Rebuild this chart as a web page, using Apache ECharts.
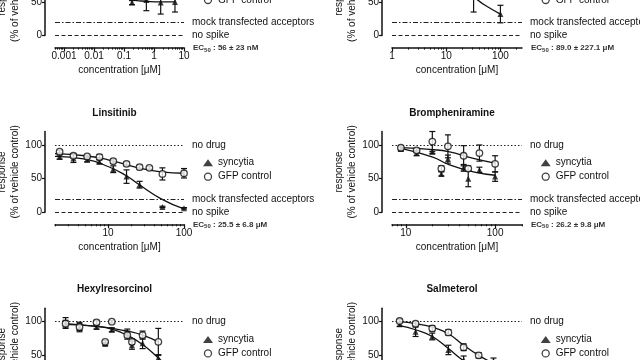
<!DOCTYPE html>
<html>
<head>
<meta charset="utf-8">
<script src="https://cdn.jsdelivr.net/npm/echarts@6/dist/echarts.min.js"></script>
<style>
  html, body { margin: 0; background: #fff; }
  #chart { width: 640px; height: 360px; }
</style>
</head>
<body>
<div id="chart"></div>
<script>
// ---- panel 1: top left (only its lower part is in view)
const p1SyncConc = [0.185, 0.556, 1.67, 5];
const p1Sync = [49, 53, 49, 50];
const p1SyncErr = [3, 16, 17, 15];
const p1SyncFitConc = [0.05, 0.1, 0.185, 0.556, 1.67, 5];
const p1SyncFit = [75, 60, 53, 51, 50, 50];
const p1Ticks = [0.001, 0.01, 0.1, 1, 10];
const p1TickLabels = ["0.001", "0.01", "0.1", "1", "10"];

// ---- panel 2: top right (only its lower part is in view)
const p2SyncConc = [32, 100];
const p2Sync = [62, 32];
const p2SyncErr = [27, 13];
const p2SyncFitConc = [20, 30, 38, 60, 100];
const p2SyncFit = [78, 62, 53, 42, 32];
const p2Ticks = [1, 10, 100];
const p2TickLabels = ["1", "10", "100"];

// ---- panel 3: Linsitinib
const p3GfpConc = [2.3, 3.5, 5.3, 7.7, 11.7, 17.5, 26, 35, 52, 100];
const p3Gfp = [90, 84, 83, 82, 76, 72, 67, 66, 57, 58];
const p3GfpErr = [2, 3, 2, 4, 3, 3, 3, 2, 9, 7];
const p3SyncConc = [2.3, 3.5, 5.3, 7.7, 11.7, 17.5, 26, 52, 100];
const p3Sync = [82, 80, 78, 75, 64, 53, 41, 8, 6];
const p3SyncErr = [3, 6, 3, 3, 5, 10, 5, 1, 1];
const p3GfpFitConc = [2, 5, 10, 17, 25, 50, 100];
const p3GfpFit = [87, 84, 78, 71, 66, 60, 58];
const p3SyncFitConc = [2, 5, 10, 17, 25, 50, 100];
const p3SyncFit = [83, 79, 68, 55, 42, 20, 5];
const p3Ticks = [10, 100];
const p3TickLabels = ["10", "100"];

// ---- panel 4: Brompheniramine
const p4Conc = [8.8, 13.2, 19.8, 25, 29.6, 44.4, 50, 66.7, 100];
const p4Gfp = [96, 92, 105, 65, 98, 84, 65, 88, 72];
const p4GfpErr = [3, 3, 15, 4, 17, 15, 4, 12, 12];
const p4Sync = [94, 88, 90, 57, 79, 66, 50, 63, 53];
const p4SyncErr = [3, 4, 3, 3, 6, 5, 12, 4, 7];
const p4GfpFitConc = [8.8, 20, 30, 57, 100];
const p4GfpFit = [96, 93, 90, 80, 73];
const p4SyncFitConc = [8.8, 20, 30, 57, 100];
const p4SyncFit = [95, 82, 71, 60, 55];
const p4Ticks = [10, 100];
const p4TickLabels = ["10", "100"];

// ---- panel 5: Hexylresorcinol (bottom cut off)
const p5Conc = [0.73, 1.2, 2.2, 3.0, 3.8, 6.6, 7.8, 11.4, 20];
const p5Gfp = [97, 92, 99, 70, 100, 80, 70, 80, 70];
const p5GfpErr = [5, 5, 3, 2, 2, 6, 4, 6, 20];
const p5Sync = [98, 92, 92, 67, 88, 83, 65, 68, 46];
const p5SyncErr = [8, 7, 3, 2, 3, 6, 6, 8, 5];
const p5GfpFitConc = [0.73, 2.2, 3.8, 6.6, 11.4, 20];
const p5GfpFit = [96, 93, 90, 86, 80, 70];
const p5SyncFitConc = [0.73, 2.2, 3.8, 6.6, 11.4, 20, 35];
const p5SyncFit = [97, 93, 89, 80, 66, 46, 25];
const p5Ticks = [1, 10];
const p5TickLabels = ["1", "10"];

// ---- panel 6: Salmeterol (bottom cut off)
const p6Conc = [0.15, 0.35, 0.85, 2, 4.5, 10, 22];
const p6Gfp = [101, 97, 90, 84, 62, 50, 38];
const p6GfpErr = [2, 3, 4, 4, 5, 4, 8];
const p6Sync = [96, 85, 78, 58, 43, 30, 20];
const p6SyncErr = [3, 7, 5, 7, 6, 5, 5];
const p6GfpFitConc = [0.15, 0.35, 0.85, 2, 4.5, 10, 22];
const p6GfpFit = [100, 97, 92, 82, 65, 50, 38];
const p6SyncFitConc = [0.15, 0.35, 0.85, 2, 4.5, 10];
const p6SyncFit = [94, 88, 78, 60, 42, 30];
const p6Ticks = [0.1, 1, 10, 100];
const p6TickLabels = ["0.1", "1", "10", "100"];

const INK = "#111";
const FONT = "Liberation Sans, Arial, sans-serif";

const colLeft = [55, 392];
const colWidth = [129, 130];
const rowZero = [35.6, 212.3, 389];   // pixel row of y = 0
const plotH = 80.8;                   // y 0..120

const panels = [
  { col: 0, row: 0, xMin: 0.0005, xMax: 10, ticks: p1Ticks, labels: p1TickLabels, title: "", ec50: " : 56 ± 23 nM",
    sync: [p1SyncConc, p1Sync, p1SyncErr], gfp: null,
    syncFit: [p1SyncFitConc, p1SyncFit], gfpFit: null },
  { col: 1, row: 0, xMin: 1, xMax: 250, ticks: p2Ticks, labels: p2TickLabels, title: "", ec50: " : 89.0 ± 227.1 μM",
    sync: [p2SyncConc, p2Sync, p2SyncErr], gfp: null,
    syncFit: [p2SyncFitConc, p2SyncFit], gfpFit: null },
  { col: 0, row: 1, xMin: 2, xMax: 100, ticks: p3Ticks, labels: p3TickLabels, title: "Linsitinib", ec50: " : 25.5 ± 6.8 μM",
    sync: [p3SyncConc, p3Sync, p3SyncErr], gfp: [p3GfpConc, p3Gfp, p3GfpErr],
    syncFit: [p3SyncFitConc, p3SyncFit], gfpFit: [p3GfpFitConc, p3GfpFit] },
  { col: 1, row: 1, xMin: 7, xMax: 200, ticks: p4Ticks, labels: p4TickLabels, title: "Brompheniramine", ec50: " : 26.2 ± 9.8 μM",
    sync: [p4Conc, p4Sync, p4SyncErr], gfp: [p4Conc, p4Gfp, p4GfpErr],
    syncFit: [p4SyncFitConc, p4SyncFit], gfpFit: [p4GfpFitConc, p4GfpFit] },
  { col: 0, row: 2, xMin: 0.5, xMax: 50, ticks: p5Ticks, labels: p5TickLabels, title: "Hexylresorcinol", ec50: "",
    sync: [p5Conc, p5Sync, p5SyncErr], gfp: [p5Conc, p5Gfp, p5GfpErr],
    syncFit: [p5SyncFitConc, p5SyncFit], gfpFit: [p5GfpFitConc, p5GfpFit] },
  { col: 1, row: 2, xMin: 0.1, xMax: 100, ticks: p6Ticks, labels: p6TickLabels, title: "Salmeterol", ec50: "",
    sync: [p6Conc, p6Sync, p6SyncErr], gfp: [p6Conc, p6Gfp, p6GfpErr],
    syncFit: [p6SyncFitConc, p6SyncFit], gfpFit: [p6GfpFitConc, p6GfpFit] },
];

const lg = Math.log10;

function minorTicks(min, max) {
  const out = [];
  for (let d = Math.floor(lg(min)); d <= Math.ceil(lg(max)); d++) {
    for (let k = 2; k <= 9; k++) {
      const v = k * Math.pow(10, d);
      if (v >= min && v <= max) out.push(lg(v));
    }
  }
  return out;
}

function errRender(params, api) {
  const x = api.value(0);
  const a = api.coord([x, api.value(1)]);
  const b = api.coord([x, api.value(2)]);
  const st = { stroke: INK, lineWidth: 1.2 };
  return {
    type: "group",
    children: [
      { type: "line", shape: { x1: a[0], y1: a[1], x2: b[0], y2: b[1] }, style: st },
      { type: "line", shape: { x1: a[0] - 3, y1: a[1], x2: a[0] + 3, y2: a[1] }, style: st },
      { type: "line", shape: { x1: b[0] - 3, y1: b[1], x2: b[0] + 3, y2: b[1] }, style: st },
    ],
  };
}

const refLines = {
  silent: true,
  symbol: "none",
  animation: false,
  lineStyle: { color: "#222", width: 1 },
  label: { position: "end", distance: 8, fontSize: 10, color: INK, fontFamily: FONT, formatter: (p) => p.name },
  data: [
    { name: "no drug", yAxis: 100, lineStyle: { type: [1.5, 2] } },
    { name: "mock transfected acceptors", yAxis: 20, lineStyle: { type: [5, 2, 1.5, 2] } },
    { name: "no spike", yAxis: 0, lineStyle: { type: [4, 2.5] } },
  ],
};

const grid = [], xAxis = [], yAxis = [], series = [], title = [], legend = [];

panels.forEach((p, i) => {
  const left = colLeft[p.col];
  const width = colWidth[p.col];
  const zero = rowZero[p.row];
  const shift = (p.row - 1) * 176.7;
  grid.push({ left: left, top: zero - plotH, width: width, height: plotH, outerBoundsMode: "none", containLabel: false });

  const major = p.ticks.map(lg);
  xAxis.push({
    gridIndex: i, type: "value", position: "bottom", offset: 12,
    min: lg(p.xMin), max: lg(p.xMax),
    axisLine: { onZero: false, lineStyle: { color: INK, width: 1.5 } },
    axisTick: { customValues: major, length: 4, lineStyle: { color: INK, width: 1.2 } },
    axisLabel: {
      customValues: major, fontSize: 10, color: INK, margin: 4, fontFamily: FONT,
      formatter: (v) => {
        const k = major.findIndex((m) => Math.abs(m - v) < 1e-6);
        return k >= 0 ? p.labels[k] : "";
      },
    },
    splitLine: { show: false },
    name: "concentration [μM]", nameLocation: "middle", nameGap: 18,
    nameTextStyle: { fontSize: 10, color: INK, fontFamily: FONT },
  });
  xAxis.push({
    gridIndex: i, type: "value", position: "bottom", offset: 12,
    min: lg(p.xMin), max: lg(p.xMax),
    axisLine: { show: false, onZero: false },
    axisTick: { customValues: minorTicks(p.xMin, p.xMax), length: 2, lineStyle: { color: INK, width: 1 } },
    axisLabel: { show: false },
    splitLine: { show: false },
  });
  yAxis.push({
    gridIndex: i, type: "value", min: 0, max: 120, offset: 10,
    axisLine: { show: true, onZero: false, lineStyle: { color: INK, width: 1.5 } },
    axisTick: { show: true, customValues: [0, 50, 100], length: 3, lineStyle: { color: INK, width: 1.2 } },
    axisLabel: { customValues: [0, 50, 100], fontSize: 10, color: INK, margin: 3, fontFamily: FONT },
    splitLine: { show: false },
    name: "response\n(% of vehicle control)", nameLocation: "middle", nameGap: 12, nameRotate: 90,
    nameTextStyle: { fontSize: 10, lineHeight: 13, color: INK, fontFamily: FONT },
  });

  const xa = 2 * i;
  const pts = (s) => s[0].map((c, k) => [lg(c), s[1][k]]);
  const errs = (s) => s[0].map((c, k) => [lg(c), s[1][k] - s[2][k], s[1][k] + s[2][k]]);

  series.push({
    type: "line", name: "fit", xAxisIndex: xa, yAxisIndex: i, data: pts(p.syncFit),
    smooth: true, showSymbol: false, symbol: "none", z: 3,
    lineStyle: { color: INK, width: 1.3 }, markLine: refLines,
  });
  if (p.gfpFit) {
    series.push({
      type: "line", name: "fit", xAxisIndex: xa, yAxisIndex: i, data: pts(p.gfpFit),
      smooth: true, showSymbol: false, symbol: "none", z: 3, lineStyle: { color: INK, width: 1.3 },
    });
  }
  series.push({ type: "custom", name: "err", xAxisIndex: xa, yAxisIndex: i, renderItem: errRender,
    data: errs(p.sync), encode: { x: 0, y: [1, 2] }, z: 2 });
  series.push({ type: "scatter", name: "syncytia", xAxisIndex: xa, yAxisIndex: i, data: pts(p.sync),
    symbol: "triangle", symbolSize: 6, itemStyle: { color: INK }, z: 4 });
  if (p.gfp) {
    series.push({ type: "custom", name: "err", xAxisIndex: xa, yAxisIndex: i, renderItem: errRender,
      data: errs(p.gfp), encode: { x: 0, y: [1, 2] }, z: 2 });
    series.push({ type: "scatter", name: "GFP control", xAxisIndex: xa, yAxisIndex: i, data: pts(p.gfp),
      symbol: "circle", symbolSize: 6.5, itemStyle: { color: "#fff", borderColor: INK, borderWidth: 1.3 }, z: 5 });
  }

  const textX = left + width + 9;
  if (p.title) {
    title.push({ text: p.title, left: left + width / 2 - 5, top: 108 + shift, textAlign: "center", padding: 0,
      textStyle: { fontSize: 10, fontWeight: "bold", color: INK, fontFamily: FONT } });
  }
  if (p.ec50) {
    title.push({ text: "{a|EC}{b|50}{a|" + p.ec50 + "}", left: textX, top: zero + 7.5, padding: 0,
      textStyle: { rich: {
        a: { fontSize: 8, lineHeight: 10, color: "#333", fontFamily: FONT },
        b: { fontSize: 6, lineHeight: 6, verticalAlign: "bottom", color: "#333", fontFamily: FONT },
      } } });
  }
  legend.push({
    left: p.col === 0 ? 203 : 540.7, top: 156.7 + shift, orient: "vertical",
    itemWidth: 10, itemHeight: 7, itemGap: 2, padding: 0, selectedMode: false,
    textStyle: { fontSize: 10, lineHeight: 12, color: INK, fontFamily: FONT },
    data: [
      { name: "syncytia", icon: "triangle", itemStyle: { color: INK } },
      { name: "GFP control", icon: "circle", itemStyle: { color: "#fff", borderColor: INK, borderWidth: 1.3 } },
    ],
  });
});

const chart = echarts.init(document.getElementById("chart"));
chart.setOption({
  animation: false,
  backgroundColor: "#fff",
  textStyle: { fontFamily: FONT },
  title, legend, grid, xAxis, yAxis, series,
});
</script>
</body>
</html>
